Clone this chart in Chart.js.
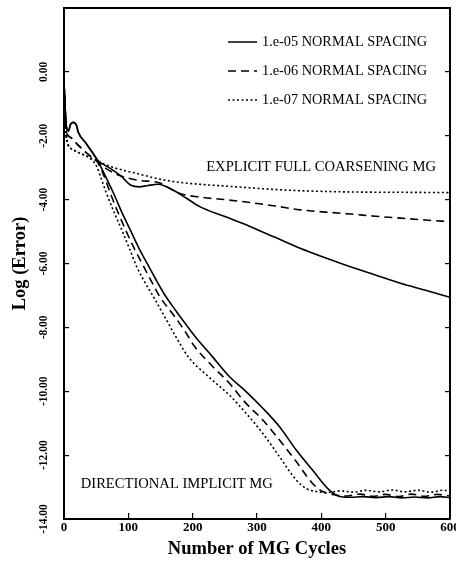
<!DOCTYPE html>
<html>
<head>
<meta charset="utf-8">
<script src="https://cdn.jsdelivr.net/npm/chart.js@4"></script>
<style>
  html, body { margin: 0; padding: 0; background: #fff; }
  #wrap { width: 456px; height: 567px; }
</style>
</head>
<body>
<div id="wrap"><canvas id="miCanvas" width="456" height="567"></canvas></div>
<script>
// labels
const spacingLabels = ['1.e-05 NORMAL SPACING', '1.e-06 NORMAL SPACING', '1.e-07 NORMAL SPACING'];
const groupLabels = ['EXPLICIT FULL COARSENING MG', 'DIRECTIONAL IMPLICIT MG'];
const xTicks = [0, 100, 200, 300, 400, 500, 600];
const yTicks = [-14, -12, -10, -8, -6, -4, -2, 0];

// explicit full coarsening MG (upper curves)
const expX5 = [0, 2, 4, 7, 10, 14, 19, 22, 34, 45, 52, 70, 88, 104, 117, 130, 146, 169, 190, 211, 250, 289, 328, 367, 406, 445, 484, 523, 562, 600];
const expY5 = [-0.3, -1.2, -1.75, -1.85, -1.65, -1.58, -1.65, -1.88, -2.23, -2.55, -2.76, -3.0, -3.25, -3.55, -3.6, -3.56, -3.52, -3.7, -3.95, -4.22, -4.53, -4.84, -5.18, -5.52, -5.82, -6.1, -6.36, -6.62, -6.84, -7.06];

const expX6 = [0, 2, 4, 10, 20, 30, 40, 52, 65, 78, 95, 117, 148, 165, 179, 211, 250, 289, 328, 367, 406, 445, 484, 523, 562, 600];
const expY6 = [-0.3, -1.3, -1.9, -2.05, -2.25, -2.45, -2.62, -2.8, -3.02, -3.17, -3.3, -3.4, -3.47, -3.65, -3.8, -3.92, -4.0, -4.09, -4.2, -4.32, -4.39, -4.45, -4.52, -4.58, -4.64, -4.69];

const expX7 = [0, 2, 4, 13, 25, 40, 52, 70, 90, 117, 140, 169, 211, 247, 289, 325, 367, 445, 523, 600];
const expY7 = [-0.3, -1.4, -2.1, -2.42, -2.55, -2.68, -2.8, -2.95, -3.07, -3.2, -3.32, -3.43, -3.52, -3.57, -3.63, -3.68, -3.72, -3.76, -3.77, -3.78];

// directional implicit MG (lower curves)
const impX5 = [0, 2, 4, 7, 10, 14, 19, 22, 34, 45, 52, 64, 77, 90, 103, 116, 129, 142, 155, 175, 190, 206, 230, 257, 283, 309, 335, 361, 386, 412, 425, 445, 465, 485, 505, 525, 545, 565, 585, 600];
const impY5 = [-0.3, -1.2, -1.75, -1.85, -1.65, -1.58, -1.65, -1.88, -2.23, -2.55, -2.76, -3.25, -3.8, -4.4, -4.95, -5.5, -5.99, -6.47, -6.93, -7.51, -7.92, -8.34, -8.9, -9.54, -10.01, -10.53, -11.11, -11.84, -12.46, -13.09, -13.27, -13.32, -13.3, -13.33, -13.3, -13.34, -13.31, -13.34, -13.3, -13.33];

const impX6 = [0, 2, 4, 10, 20, 30, 40, 52, 62, 72, 85, 98, 111, 124, 137, 149, 172, 188, 203, 230, 257, 283, 309, 335, 361, 386, 402, 420, 440, 460, 480, 500, 520, 540, 560, 580, 600];
const impY6 = [-0.3, -1.3, -1.9, -2.05, -2.25, -2.45, -2.62, -2.82, -3.25, -3.8, -4.45, -5.05, -5.6, -6.1, -6.6, -7.04, -7.66, -8.12, -8.6, -9.2, -9.75, -10.38, -10.9, -11.53, -12.2, -12.88, -13.14, -13.24, -13.28, -13.22, -13.29, -13.23, -13.3, -13.22, -13.29, -13.23, -13.28];

const impX7 = [0, 2, 4, 13, 25, 40, 51, 58, 66, 79, 92, 103, 113, 126, 139, 162, 177, 193, 225, 257, 283, 309, 335, 361, 376, 392, 410, 430, 450, 470, 490, 510, 530, 550, 570, 590, 600];
const impY7 = [-0.3, -1.4, -2.1, -2.42, -2.55, -2.7, -2.97, -3.35, -3.8, -4.45, -5.05, -5.6, -6.1, -6.6, -7.04, -7.87, -8.4, -8.92, -9.55, -10.12, -10.69, -11.32, -12.05, -12.78, -13.04, -13.14, -13.17, -13.12, -13.16, -13.1, -13.15, -13.09, -13.15, -13.1, -13.16, -13.1, -13.14];

const black = '#000';
const serif = "'Liberation Serif', 'Times New Roman', serif";
const dashes = [[], [8, 5], [2, 2.5]];

// where the two group captions sit, in data units
const groupX = [221, 26];
const groupY = [-2.97, -12.9];

const toPoints = (xs, ys) => xs.map((x, i) => ({ x: x, y: ys[i] }));

const makeSet = (label, xs, ys, style) => ({
    label: label,
    data: toPoints(xs, ys),
    borderColor: black,
    backgroundColor: black,
    borderWidth: 1.6,
    borderDash: dashes[style],
    pointRadius: 0,
    fill: false,
    cubicInterpolationMode: 'monotone'
});

// no extra room for half tick labels at the ends of the axes
const noEdgePadding = (scale) => {
    scale.paddingLeft = 0;
    scale.paddingRight = 0;
    scale.paddingTop = 0;
    scale.paddingBottom = 0;
};

const textPlugin = {
    id: 'textPlugin',
    afterDraw(chart) {
        const ctx = chart.ctx;
        const area = chart.chartArea;
        const xs = chart.scales.x;
        const ys = chart.scales.y;
        ctx.save();
        ctx.fillStyle = black;
        ctx.strokeStyle = black;
        ctx.textBaseline = 'middle';
        ctx.textAlign = 'left';
        ctx.font = '14.3px ' + serif;
        spacingLabels.forEach((txt, i) => {
            const y = area.top + 34 + i * 29;
            ctx.lineWidth = 1.5;
            ctx.setLineDash(dashes[i]);
            ctx.beginPath();
            ctx.moveTo(area.right - 222, y);
            ctx.lineTo(area.right - 193, y);
            ctx.stroke();
            ctx.setLineDash([]);
            ctx.fillText(txt, area.right - 188, y);
        });
        ctx.font = '14.6px ' + serif;
        groupLabels.forEach((txt, i) => {
            ctx.fillText(txt, xs.getPixelForValue(groupX[i]), ys.getPixelForValue(groupY[i]));
        });
        ctx.restore();
    }
};

const ctx = document.getElementById('miCanvas').getContext('2d');

window.miChart = new Chart(ctx, {
    type: 'line',
    data: {
        datasets: [
            makeSet(spacingLabels[0] + ' (explicit)', expX5, expY5, 0),
            makeSet(spacingLabels[1] + ' (explicit)', expX6, expY6, 1),
            makeSet(spacingLabels[2] + ' (explicit)', expX7, expY7, 2),
            makeSet(spacingLabels[0] + ' (implicit)', impX5, impY5, 0),
            makeSet(spacingLabels[1] + ' (implicit)', impX6, impY6, 1),
            makeSet(spacingLabels[2] + ' (implicit)', impX7, impY7, 2)
        ]
    },
    options: {
        responsive: false,
        animation: false,
        layout: { padding: { left: 0, right: 6, top: 8, bottom: 0 } },
        plugins: {
            legend: { display: false },
            tooltip: { enabled: false }
        },
        scales: {
            x: {
                type: 'linear',
                position: 'bottom',
                min: 0,
                max: 600,
                afterBuildTicks: (scale) => { scale.ticks = xTicks.map(v => ({ value: v })); },
                afterFit: (scale) => { scale.height = 48; noEdgePadding(scale); },
                ticks: {
                    color: black,
                    padding: 7,
                    maxRotation: 0,
                    font: { family: serif, size: 13, weight: 'bold' },
                    callback: (v) => String(v)
                },
                grid: { drawOnChartArea: false, drawTicks: true, tickLength: -6, color: black, lineWidth: 1.2 },
                border: { display: true, color: black, width: 2 },
                title: {
                    display: true,
                    text: 'Number of MG Cycles',
                    color: black,
                    font: { family: serif, size: 18.5, weight: 'bold' },
                    padding: { top: 0, bottom: 7 }
                }
            },
            x2: {
                type: 'linear',
                position: 'top',
                min: 0,
                max: 600,
                afterFit: (scale) => { scale.height = 0; noEdgePadding(scale); },
                ticks: { display: false },
                grid: { display: false },
                border: { display: true, color: black, width: 2 }
            },
            y: {
                type: 'linear',
                position: 'left',
                min: -14,
                max: 2,
                afterBuildTicks: (scale) => { scale.ticks = yTicks.map(v => ({ value: v })); },
                afterFit: (scale) => { scale.width = 64; noEdgePadding(scale); },
                ticks: {
                    color: black,
                    padding: 10,
                    minRotation: 90,
                    maxRotation: 90,
                    crossAlign: 'center',
                    font: { family: serif, size: 11.5, weight: 'bold' },
                    callback: (v) => Number(v).toFixed(2)
                },
                grid: { drawOnChartArea: false, drawTicks: true, tickLength: -5, color: black, lineWidth: 1.2 },
                border: { display: true, color: black, width: 2 },
                title: {
                    display: true,
                    text: 'Log (Error)',
                    color: black,
                    font: { family: serif, size: 18.5, weight: 'bold' },
                    padding: { top: 9, bottom: 0 }
                }
            },
            y2: {
                type: 'linear',
                position: 'right',
                min: -14,
                max: 2,
                afterBuildTicks: (scale) => { scale.ticks = yTicks.map(v => ({ value: v })); },
                afterFit: (scale) => { scale.width = 0; noEdgePadding(scale); },
                ticks: { display: false },
                grid: { drawOnChartArea: false, drawTicks: true, tickLength: -5, color: black, lineWidth: 1.2 },
                border: { display: true, color: black, width: 2 }
            }
        }
    },
    plugins: [textPlugin]
});
</script>
</body>
</html>
